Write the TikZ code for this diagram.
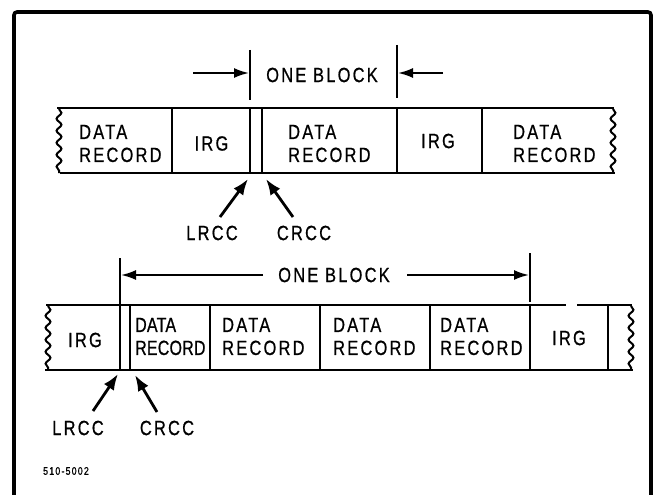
\documentclass[tikz,border=0pt]{standalone}
\usepackage{fontspec}
\usetikzlibrary{arrows.meta,decorations.pathmorphing}
\newfontfamily\lblfont[LetterSpace=11,FakeStretch=0.8,FakeBold=0.8]{Liberation Sans}
\newfontfamily\lbltight[LetterSpace=1,FakeStretch=0.78,FakeBold=0.8]{Liberation Sans}
\tikzset{
  lbl/.style={inner sep=0pt, font=\lblfont\fontsize{20.5}{23}\selectfont},
  rec/.style={lbl, align=left, anchor=west},
  strip/.style={line width=2pt, line cap=rect},
  wave/.style={line width=2pt, decorate, decoration={snake, amplitude=2.4pt, segment length=12pt}},
  frame/.style={line width=3.6pt, rounded corners=3pt},
  blk/.style={line width=2pt, -{Latex[length=15pt,width=10pt]}},
  blockmark/.style={line width=1.8pt},
  ptr/.style={line width=2.8pt, -{Latex[length=16pt,width=12pt]}}
}
\begin{document}
\begin{tikzpicture}[x=1pt,y=-1pt]
\useasboundingbox (0,0) rectangle (654,495);
% frame
\draw[frame] (14,510) -- (14,12) -- (651,12) -- (651,510);

% ===== top strip =====
\draw[strip] (58,108) -- (613,108);
\draw[strip] (61,173) -- (614,173);
\draw[wave] (59,109) -- (59,173);
\draw[wave] (613,109) -- (613,173);
\foreach \x in {172,250,262,397,482} \draw[strip] (\x,108) -- (\x,173);

\node[rec] (d1) at (79,143.5) {DATA\\RECORD};
\node[lbl] (g1) at (211.5,143.5) {IRG};
\node[rec] (d2) at (288,143.5) {DATA\\RECORD};
\node[lbl] (g2) at (438,141) {IRG};
\node[rec] (d3) at (513,143.5) {DATA\\RECORD};

% one block (top)
\coordinate (bl1a) at (250,50);
\coordinate (bl1b) at (250,100);
\coordinate (br1a) at (397,45);
\coordinate (br1b) at (397,98);
\draw[blockmark] (bl1a) -- (bl1b);
\draw[blockmark] (br1a) -- (br1b);
\node[lbl] (ob1) at (322,75) {ONE BLOCK};
\coordinate (a1s) at (193,73);
\coordinate (a1e) at (249,73);
\coordinate (a2s) at (443,73);
\coordinate (a2e) at (398,73);
\draw[blk] (a1s) -- (a1e);
\draw[blk] (a2s) -- (a2e);

% pointers (top)
\node[lbl] (lr1) at (212,233) {LRCC};
\node[lbl] (cr1) at (304,233) {CRCC};
\coordinate (lr1t) at (220,217);
\coordinate (lr1h) at (248,179);
\coordinate (cr1t) at (293,217);
\coordinate (cr1h) at (266,179);
\draw[ptr] (lr1t) -- (lr1h);
\draw[ptr] (cr1t) -- (cr1h);

% ===== bottom strip =====
\draw[strip] (47,305) -- (565,305);
\draw[strip] (578,305) -- (631,305);
\draw[strip] (46,370) -- (632,370);
\draw[wave] (48,306) -- (48,370);
\draw[wave] (631,306) -- (631,370);
\foreach \x in {120,130,210,320,430,530,608} \draw[strip] (\x,305) -- (\x,370);

\node[lbl] (g3) at (85,340) {IRG};
\node[rec, font=\lbltight\fontsize{20.5}{23}\selectfont] (d4) at (135,336.5) {DATA\\RECORD};
\node[rec] (d5) at (222,336.5) {DATA\\RECORD};
\node[rec] (d6) at (333,336.5) {DATA\\RECORD};
\node[rec] (d7) at (440,336.5) {DATA\\RECORD};
\node[lbl] (g4) at (569,338) {IRG};

% one block (bottom)
\coordinate (bl2a) at (120,258);
\coordinate (bl2b) at (120,305);
\coordinate (br2a) at (530,253);
\coordinate (br2b) at (530,302);
\draw[blockmark] (bl2a) -- (bl2b);
\draw[blockmark] (br2a) -- (br2b);
\node[lbl] (ob2) at (334,275) {ONE BLOCK};
\coordinate (a3s) at (263,275);
\coordinate (a3e) at (121,275);
\coordinate (a4s) at (407,275);
\coordinate (a4e) at (529,275);
\draw[blk] (a3s) -- (a3e);
\draw[blk] (a4s) -- (a4e);

% pointers (bottom)
\node[lbl] (lr2) at (78,428) {LRCC};
\node[lbl] (cr2) at (167,428) {CRCC};
\coordinate (lr2t) at (93,411);
\coordinate (lr2h) at (118,374);
\coordinate (cr2t) at (157,412);
\coordinate (cr2h) at (135,375);
\draw[ptr] (lr2t) -- (lr2h);
\draw[ptr] (cr2t) -- (cr2h);

% figure number
\node[inner sep=0pt, font=\lblfont\fontsize{11}{13}\selectfont] (fig) at (66,471) {510-5002};
\end{tikzpicture}
\end{document}
